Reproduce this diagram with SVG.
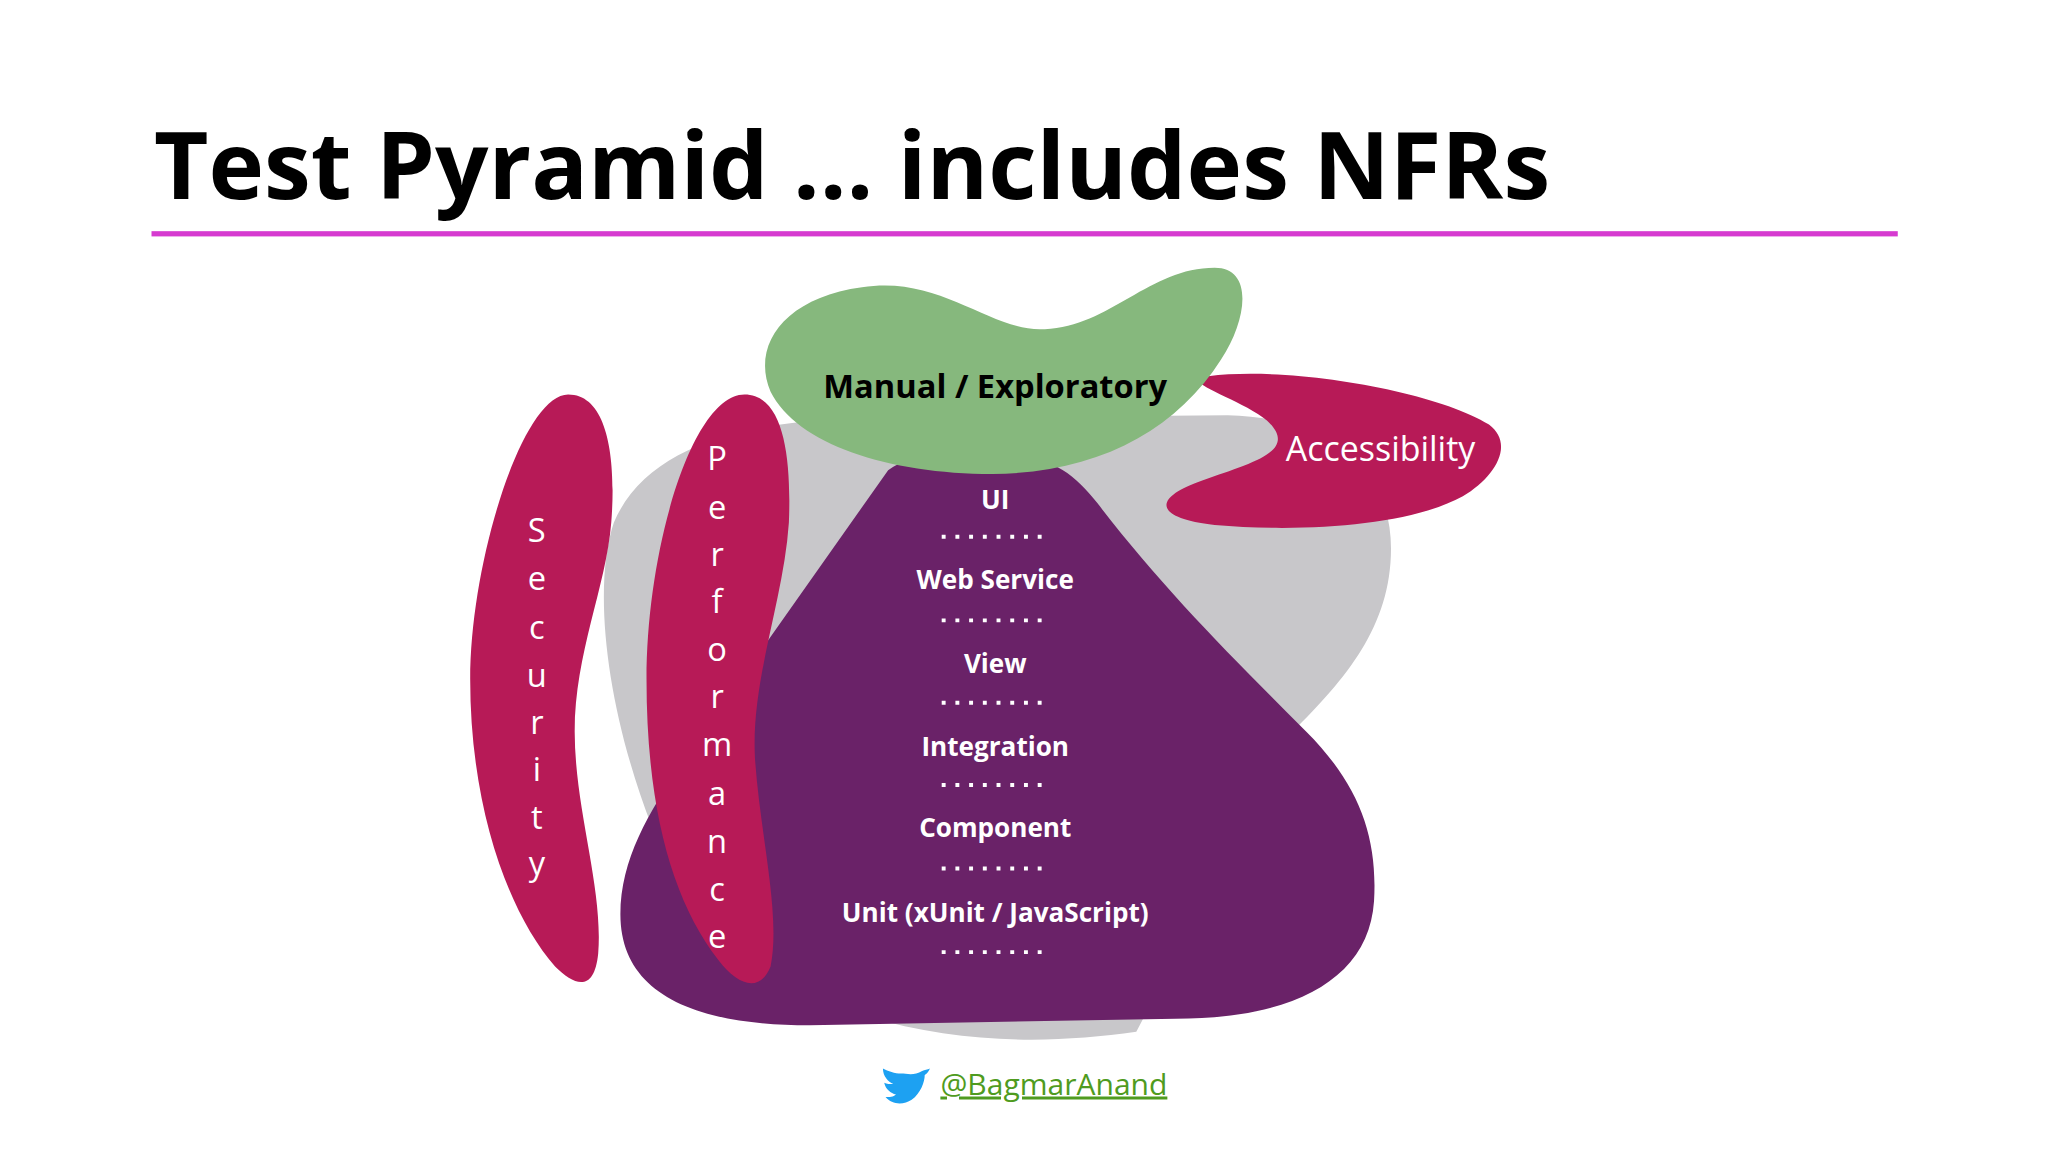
<svg xmlns="http://www.w3.org/2000/svg" width="2048" height="1152" viewBox="0 0 2048 1152">
<style>
.lbl{font-family:"Open Sans","Noto Sans",sans-serif;font-weight:700;font-size:20px;fill:#fff;text-anchor:middle}
.v{font-family:"Open Sans","Noto Sans",sans-serif;font-size:25px;fill:#fff;text-anchor:middle}
.dot{stroke:#fff;stroke-width:3;stroke-dasharray:3 7.5}
</style>
<rect width="2048" height="1152" fill="#fff"/>
<g transform="scale(1.3061)">
<text x="118" y="152" font-family="'Open Sans','Noto Sans',sans-serif" font-weight="700" font-size="72" fill="#000">Test Pyramid … includes NFRs</text>
<rect x="116" y="177" width="1337" height="4" fill="#d63bd0"/>
<g id="gray"><path d="M470 400 C500 330 600 318 700 320 L940 318 C1020 320 1065 360 1065 420 C1065 480 1030 520 990 560 L870 790 C800 800 720 800 640 770 L520 680 C470 580 450 460 470 400 Z" fill="#c8c7ca"/></g>
<g id="pyramid"><path d="M760 352 C800 345 820 360 840 385 C890 450 940 500 1000 560 C1040 600 1055 640 1052 690 C1048 750 990 780 900 780 L620 785 C530 785 475 760 475 700 C475 640 520 590 560 530 L680 360 C700 345 730 352 760 352 Z" fill="#6a2268"/>
<text class="lbl" x="762" y="390">UI</text>
<text class="lbl" x="762" y="451">Web Service</text>
<text class="lbl" x="762" y="515">View</text>
<text class="lbl" x="762" y="579">Integration</text>
<text class="lbl" x="762" y="641">Component</text>
<text class="lbl" x="762" y="706">Unit (xUnit / JavaScript)</text>
<line class="dot" x1="721" y1="411" x2="803" y2="411"/>
<line class="dot" x1="721" y1="475" x2="803" y2="475"/>
<line class="dot" x1="721" y1="538" x2="803" y2="538"/>
<line class="dot" x1="721" y1="601" x2="803" y2="601"/>
<line class="dot" x1="721" y1="665" x2="803" y2="665"/>
<line class="dot" x1="721" y1="729" x2="803" y2="729"/>
</g>
<g id="security"><path d="M435 302 C465 302 472 350 468 400 C464 450 440 500 440 560 C440 620 462 680 458 730 C455 760 440 755 425 740 C390 700 360 620 360 520 C360 430 400 302 435 302 Z" fill="#b71a57"/>
<text class="v" x="411" y="415">S</text><text class="v" x="411" y="452">e</text><text class="v" x="411" y="489">c</text><text class="v" x="411" y="526">u</text><text class="v" x="411" y="562">r</text><text class="v" x="411" y="598">i</text><text class="v" x="411" y="635">t</text><text class="v" x="411" y="670">y</text></g>
<g id="performance"><path d="M570 302 C600 302 606 350 604 400 C600 460 575 520 578 580 C582 640 598 700 590 740 C582 760 565 755 550 735 C515 690 495 620 495 520 C495 420 530 302 570 302 Z" fill="#b71a57"/>
<text class="v" x="549" y="360">P</text><text class="v" x="549" y="397">e</text><text class="v" x="549" y="433">r</text><text class="v" x="549" y="469">f</text><text class="v" x="549" y="506">o</text><text class="v" x="549" y="542">r</text><text class="v" x="549" y="579">m</text><text class="v" x="549" y="616">a</text><text class="v" x="549" y="653">n</text><text class="v" x="549" y="690">c</text><text class="v" x="549" y="726">e</text></g>
<g id="accessibility"><path d="M925 288 C990 280 1100 300 1140 325 C1160 340 1145 365 1120 380 C1080 402 1000 408 930 402 C880 396 885 380 920 368 C960 354 995 345 970 322 C950 305 900 292 925 288 Z" fill="#b71a57"/>
<text x="1057" y="353" font-family="'Open Sans','Noto Sans',sans-serif" font-size="26" fill="#fff" text-anchor="middle">Accessibility</text></g>
<g id="manual"><path d="M660 220 C720 210 760 255 800 252 C850 250 880 205 930 205 C960 205 955 245 935 275 C900 330 840 362 760 363 C680 363 610 340 590 300 C575 265 600 228 660 220 Z" fill="#86b87d"/>
<text x="762" y="305" font-family="'Open Sans','Noto Sans',sans-serif" font-weight="700" font-size="25" fill="#000" text-anchor="middle">Manual / Exploratory</text></g>
<g id="footer"><path d="M706 820 C700 824 694 822 690 822 C685 822 680 820 676 818 C676 824 680 828 684 830 C681 830 679 830 677 829 C678 834 682 837 686 838 C684 840 681 840 678 840 C683 846 692 846 698 842 C705 837 708 828 708 823 C710 822 711 820 712 818 C710 819 708 819 706 820 Z" fill="#1da1f2"/>
<text x="720" y="838" font-family="'Open Sans','Noto Sans',sans-serif" font-size="23" fill="#4f9b20" text-decoration="underline">@BagmarAnand</text></g>
</g>
</svg>
